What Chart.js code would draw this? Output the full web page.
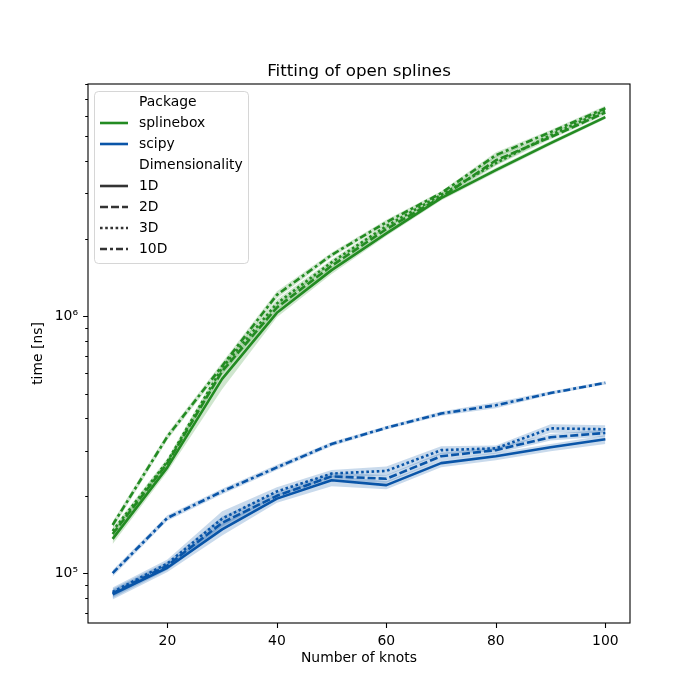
<!DOCTYPE html>
<html>
<head>
<meta charset="utf-8">
<script src="https://cdn.jsdelivr.net/npm/chart.js@4.4.1/dist/chart.umd.min.js"></script>
<style>
  html, body { margin: 0; padding: 0; background: #fff; }
  canvas { display: block; }
</style>
</head>
<body>
<canvas id="chart" width="700" height="700" style="width:700px;height:700px"></canvas>
<script>
// knots on the x axis
const knots = [10, 20, 30, 40, 50, 60, 70, 80, 90, 100];

// splinebox timings [ns] (mean, lower and upper band)
const sb1D = [1.36e5, 2.58e5, 5.7e5, 1.03e6, 1.51e6, 2.10e6, 2.88e6, 3.70e6, 4.71e6, 5.95e6];
const sb1DLo = [1.30e5, 2.48e5, 5.2e5, 0.99e6, 1.46e6, 2.05e6, 2.82e6, 3.62e6, 4.62e6, 5.85e6];
const sb1DHi = [1.42e5, 2.70e5, 6.2e5, 1.07e6, 1.56e6, 2.15e6, 2.94e6, 3.78e6, 4.80e6, 6.05e6];
const sb2D = [1.42e5, 2.68e5, 6.1e5, 1.08e6, 1.57e6, 2.18e6, 2.90e6, 4.04e6, 4.97e6, 6.2e6];
const sb2DLo = [1.38e5, 2.60e5, 5.9e5, 1.05e6, 1.53e6, 2.13e6, 2.85e6, 3.85e6, 4.88e6, 6.08e6];
const sb2DHi = [1.47e5, 2.77e5, 6.3e5, 1.12e6, 1.62e6, 2.24e6, 2.96e6, 4.22e6, 5.06e6, 6.32e6];
const sb3D = [1.46e5, 2.72e5, 6.3e5, 1.12e6, 1.62e6, 2.24e6, 2.96e6, 3.94e6, 5.06e6, 6.33e6];
const sb3DLo = [1.42e5, 2.65e5, 6.1e5, 1.08e6, 1.58e6, 2.19e6, 2.91e6, 3.86e6, 4.96e6, 6.2e6];
const sb3DHi = [1.50e5, 2.80e5, 6.5e5, 1.16e6, 1.66e6, 2.29e6, 3.01e6, 4.02e6, 5.16e6, 6.46e6];
const sb10D = [1.54e5, 3.40e5, 6.4e5, 1.21e6, 1.73e6, 2.32e6, 3.01e6, 4.23e6, 5.2e6, 6.44e6];
const sb10DLo = [1.49e5, 3.30e5, 6.2e5, 1.17e6, 1.69e6, 2.27e6, 2.96e6, 4.12e6, 5.1e6, 6.3e6];
const sb10DHi = [1.59e5, 3.50e5, 6.6e5, 1.25e6, 1.77e6, 2.37e6, 3.06e6, 4.34e6, 5.3e6, 6.58e6];

// scipy timings [ns]
const sp1D = [8.28e4, 1.05e5, 1.48e5, 1.95e5, 2.30e5, 2.20e5, 2.68e5, 2.85e5, 3.09e5, 3.32e5];
const sp1DLo = [7.9e4, 1.01e5, 1.40e5, 1.88e5, 2.18e5, 2.12e5, 2.58e5, 2.75e5, 2.98e5, 3.18e5];
const sp1DHi = [8.6e4, 1.09e5, 1.56e5, 2.02e5, 2.40e5, 2.28e5, 2.76e5, 2.94e5, 3.18e5, 3.44e5];
const sp2D = [8.35e4, 1.07e5, 1.57e5, 2.0e5, 2.38e5, 2.33e5, 2.85e5, 3.01e5, 3.38e5, 3.51e5];
const sp2DLo = [8.0e4, 1.03e5, 1.48e5, 1.93e5, 2.30e5, 2.25e5, 2.76e5, 2.92e5, 3.28e5, 3.40e5];
const sp2DHi = [8.7e4, 1.11e5, 1.66e5, 2.07e5, 2.46e5, 2.41e5, 2.94e5, 3.10e5, 3.48e5, 3.62e5];
const sp3D = [8.45e4, 1.09e5, 1.63e5, 2.08e5, 2.44e5, 2.50e5, 3.01e5, 3.06e5, 3.66e5, 3.63e5];
const sp3DLo = [8.1e4, 1.05e5, 1.52e5, 2.0e5, 2.36e5, 2.40e5, 2.90e5, 2.98e5, 3.52e5, 3.50e5];
const sp3DHi = [8.8e4, 1.13e5, 1.74e5, 2.16e5, 2.52e5, 2.60e5, 3.12e5, 3.14e5, 3.80e5, 3.76e5];
const sp10D = [1.0e5, 1.64e5, 2.08e5, 2.58e5, 3.18e5, 3.68e5, 4.18e5, 4.5e5, 5.02e5, 5.5e5];
const sp10DLo = [9.7e4, 1.60e5, 2.03e5, 2.52e5, 3.12e5, 3.62e5, 4.10e5, 4.38e5, 4.94e5, 5.42e5];
const sp10DHi = [1.03e5, 1.68e5, 2.13e5, 2.64e5, 3.24e5, 3.74e5, 4.26e5, 4.62e5, 5.10e5, 5.58e5];

// ticks
const xTicks = [20, 40, 60, 80, 100];
const yTicks = [1e5, 1e6];
const yTickLabels = ['10\u2075', '10\u2076'];

const GREEN = '#238b22';
const BLUE = '#0a55a8';
const GREEN_BAND = 'rgba(35, 139, 34, 0.22)';
const BLUE_BAND = 'rgba(10, 85, 168, 0.22)';
const FONT = 'DejaVu Sans';
const LW = 2.6;

const dashes = {
  '1D': [],
  '2D': [8, 3],
  '3D': [2.6, 2.6],
  '10D': [7, 3, 3, 3]
};

const pts = arr => arr.map((v, i) => ({ x: knots[i], y: v }));

const datasets = [];
function addSeries(mean, lo, hi, color, band, dim) {
  datasets.push({
    data: pts(hi), borderWidth: 0, pointRadius: 0, fill: false, borderColor: 'transparent'
  });
  datasets.push({
    data: pts(lo), borderWidth: 0, pointRadius: 0, fill: '-1',
    borderColor: 'transparent', backgroundColor: band
  });
  datasets.push({
    data: pts(mean), borderColor: color, borderWidth: LW, borderDash: dashes[dim],
    pointRadius: 0, fill: false, tension: 0, borderCapStyle: 'butt', borderJoinStyle: 'round'
  });
}

addSeries(sb1D, sb1DLo, sb1DHi, GREEN, GREEN_BAND, '1D');
addSeries(sb2D, sb2DLo, sb2DHi, GREEN, GREEN_BAND, '2D');
addSeries(sb3D, sb3DLo, sb3DHi, GREEN, GREEN_BAND, '3D');
addSeries(sb10D, sb10DLo, sb10DHi, GREEN, GREEN_BAND, '10D');
addSeries(sp1D, sp1DLo, sp1DHi, BLUE, BLUE_BAND, '1D');
addSeries(sp2D, sp2DLo, sp2DHi, BLUE, BLUE_BAND, '2D');
addSeries(sp3D, sp3DLo, sp3DHi, BLUE, BLUE_BAND, '3D');
addSeries(sp10D, sp10DLo, sp10DHi, BLUE, BLUE_BAND, '10D');

// first dataset drawn first (matplotlib order)
datasets.forEach((d, i) => { d.order = datasets.length - i; });

const legendRows = [
  { label: 'Package' },
  { label: 'splinebox', color: GREEN, dash: [] },
  { label: 'scipy', color: BLUE, dash: [] },
  { label: 'Dimensionality' },
  { label: '1D', color: '#333', dash: dashes['1D'] },
  { label: '2D', color: '#333', dash: dashes['2D'] },
  { label: '3D', color: '#333', dash: dashes['3D'] },
  { label: '10D', color: '#333', dash: dashes['10D'] }
];

const decorations = {
  id: 'decorations',
  afterDraw(chart) {
    const { ctx, chartArea: a, scales } = chart;
    const x = scales.x, y = scales.y;
    ctx.save();

    // frame
    ctx.strokeStyle = '#000';
    ctx.lineWidth = 1.1;
    ctx.setLineDash([]);
    ctx.strokeRect(a.left, a.top, a.right - a.left, a.bottom - a.top);

    // tick marks
    ctx.beginPath();
    xTicks.forEach(v => {
      const px = Math.round(x.getPixelForValue(v)) + 0.5;
      ctx.moveTo(px, a.bottom); ctx.lineTo(px, a.bottom + 4.9);
    });
    for (let e = 4; e <= 6; e++) {
      for (let m = 1; m <= 9; m++) {
        const v = m * Math.pow(10, e);
        if (v < y.min || v > y.max) continue;
        const py = Math.round(y.getPixelForValue(v)) + 0.5;
        const len = m === 1 ? 4.9 : 2.8;
        ctx.moveTo(a.left, py); ctx.lineTo(a.left - len, py);
      }
    }
    ctx.stroke();

    // title and axis titles
    ctx.fillStyle = '#000';
    ctx.textAlign = 'center';
    ctx.font = `16.7px "${FONT}"`;
    ctx.textBaseline = 'alphabetic';
    ctx.fillText('Fitting of open splines', (a.left + a.right) / 2, 76);
    ctx.font = `13.9px "${FONT}"`;
    ctx.textBaseline = 'middle';
    ctx.fillText('Number of knots', (a.left + a.right) / 2, 658);
    ctx.save();
    ctx.translate(38, (a.top + a.bottom) / 2);
    ctx.rotate(-Math.PI / 2);
    ctx.fillText('time [ns]', 0, 0);
    ctx.restore();

    // legend box
    const bx = 94.5, by = 91.5, bw = 154, bh = 172, r = 4;
    ctx.beginPath();
    ctx.moveTo(bx + r, by);
    ctx.arcTo(bx + bw, by, bx + bw, by + bh, r);
    ctx.arcTo(bx + bw, by + bh, bx, by + bh, r);
    ctx.arcTo(bx, by + bh, bx, by, r);
    ctx.arcTo(bx, by, bx + bw, by, r);
    ctx.closePath();
    ctx.fillStyle = 'rgba(255,255,255,0.8)';
    ctx.fill();
    ctx.strokeStyle = 'rgba(204,204,204,0.8)';
    ctx.lineWidth = 1;
    ctx.stroke();

    ctx.textAlign = 'left';
    ctx.textBaseline = 'middle';
    legendRows.forEach((row, i) => {
      const cy = 102 + i * 21;
      if (row.color) {
        ctx.beginPath();
        ctx.strokeStyle = row.color;
        ctx.lineWidth = LW;
        ctx.setLineDash(row.dash);
        ctx.moveTo(100, cy); ctx.lineTo(128, cy);
        ctx.stroke();
        ctx.setLineDash([]);
      }
      ctx.fillStyle = '#000';
      ctx.fillText(row.label, 139, cy);
    });
    ctx.restore();
  }
};

new Chart(document.getElementById('chart'), {
  type: 'line',
  data: { datasets },
  options: {
    responsive: false,
    animation: false,
    layout: { padding: { top: 84, right: 70, left: 0, bottom: 0 } },
    plugins: {
      legend: { display: false },
      title: { display: false },
      tooltip: { enabled: false }
    },
    scales: {
      x: {
        type: 'linear', min: 5.5, max: 104.5,
        afterBuildTicks: s => { s.ticks = xTicks.map(v => ({ value: v })); },
        afterFit: s => { s.height = 77; },
        grid: { display: false, drawTicks: false },
        border: { display: false },
        ticks: {
          padding: 10, color: '#000', maxRotation: 0, autoSkip: false,
          font: { family: FONT, size: 13.9 }
        }
      },
      y: {
        type: 'logarithmic', min: 6.4e4, max: 8.0e6,
        afterBuildTicks: s => { s.ticks = yTicks.map(v => ({ value: v })); },
        afterFit: s => { s.width = 88; },
        grid: { display: false, drawTicks: false },
        border: { display: false },
        ticks: {
          padding: 10, color: '#000', autoSkip: false,
          font: { family: FONT, size: 13.9 },
          callback: v => yTickLabels[yTicks.indexOf(v)]
        }
      }
    }
  },
  plugins: [decorations]
});
</script>
</body>
</html>
